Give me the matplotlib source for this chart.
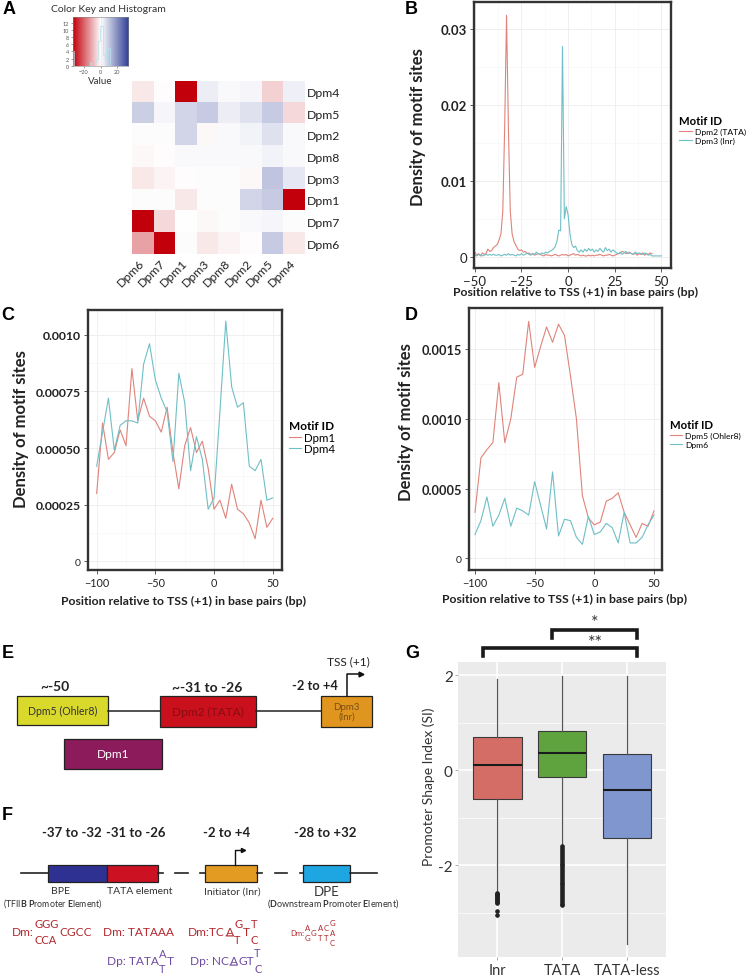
import numpy as np
import matplotlib
matplotlib.use('Agg')
import matplotlib.pyplot as plt
from matplotlib.colors import LinearSegmentedColormap
from matplotlib.patches import Rectangle

plt.rcParams['font.family'] = ['Lato', 'DejaVu Sans']
plt.rcParams['mathtext.fontset'] = 'custom'
plt.rcParams['mathtext.rm'] = 'Lato'
plt.rcParams['mathtext.bf'] = 'Lato:bold'

# ---------------- data ----------------
hm_rows = ['Dpm4', 'Dpm5', 'Dpm2', 'Dpm8', 'Dpm3', 'Dpm1', 'Dpm7', 'Dpm6']
hm_cols = ['Dpm6', 'Dpm7', 'Dpm1', 'Dpm3', 'Dpm8', 'Dpm2', 'Dpm5', 'Dpm4']
hm_row_dpm4 = [-3, -0.5, -33, 3, 1, 1.5, -6, 2.5]
hm_row_dpm5 = [8, 1.5, 7, 9, 3, 5, 9, -5]
hm_row_dpm2 = [0.5, 0.5, 7, -1, 1, 2, 5, 1]
hm_row_dpm8 = [-1, -0.5, 1, 1, 1, 1, 2, 1]
hm_row_dpm3 = [-3, -1.5, -0.5, 0.5, 0.5, -1, 10, 4]
hm_row_dpm1 = [0.5, 0.5, -3, 0.5, 0.5, 7, 9, -33]
hm_row_dpm7 = [-33, -5, 0.2, -1, 0.5, 1, 1.5, 0.5]
hm_row_dpm6 = [-12, -33, 0.5, -3, -1.5, -0.5, 9, -3]

b_pos = list(range(-50, 51))
b_dpm2 = [0.0006, 0.0002, 0.0004, 0.0001, 0.0005, 0.0003, 0.0004, 0.0010, 0.0007, 0.0008,
          0.0012, 0.0014, 0.0016, 0.0022, 0.0030, 0.0060, 0.0170, 0.0318, 0.0170, 0.0060,
          0.0030, 0.0020, 0.0015, 0.0010, 0.0008, 0.0009, 0.0006, 0.0007, 0.0004, 0.0005,
          0.0003, 0.0004, 0.0002, 0.0003, 0.0004, 0.0003, 0.0002, 0.0001, 0.0003, 0.0002,
          0.0002, 0.0001, 0.0002, 0.0003, 0.0002, 0.0001, 0.0002, 0.0003, 0.0002, 0.0003,
          0.0001, 0.0002, 0.0003, 0.0004, 0.0002, 0.0003, 0.0002, 0.0001, 0.0002, 0.0001,
          0.0001, 0.0002, 0.0001, 0.0002, 0.0001, 0.0002, 0.0002, 0.0003, 0.0002, 0.0001,
          0.0002, 0.0002, 0.0003, 0.0002, 0.0001, 0.0002, 0.0003, 0.0004, 0.0005, 0.0007,
          0.0006, 0.0004, 0.0005, 0.0006, 0.0004, 0.0003, 0.0005, 0.0002, 0.0004, 0.0003,
          0.0005, 0.0002, 0.0004, 0.0003, 0.0005, 0.0004]
b_dpm3 = [0.0002, 0.0001, 0.0003, 0.0002, 0.0001, 0.0002, 0.0003, 0.0002, 0.0003, 0.0002,
          0.0003, 0.0002, 0.0002, 0.0003, 0.0001, 0.0002, 0.0003, 0.0002, 0.0004, 0.0002,
          0.0003, 0.0002, 0.0001, 0.0003, 0.0002, 0.0004, 0.0002, 0.0003, 0.0005, 0.0003,
          0.0002, 0.0004, 0.0003, 0.0006, 0.0004, 0.0003, 0.0005, 0.0004, 0.0006, 0.0005,
          0.0007, 0.0008, 0.0010, 0.0013, 0.0020, 0.0035, 0.0034, 0.0277, 0.0050, 0.0066,
          0.0055, 0.0030, 0.0016, 0.0012, 0.0014, 0.0008, 0.0006, 0.0009, 0.0006, 0.0010,
          0.0007, 0.0011, 0.0008, 0.0010, 0.0006, 0.0009, 0.0007, 0.0011, 0.0008, 0.0006,
          0.0012, 0.0008, 0.0010, 0.0006, 0.0009, 0.0007, 0.0005, 0.0004, 0.0006, 0.0003,
          0.0005, 0.0007, 0.0004, 0.0005, 0.0004, 0.0003, 0.0006, 0.0004, 0.0005, 0.0004,
          0.0003, 0.0005, 0.0004, 0.0002, 0.0003, 0.0001, 0.0001, 0.0001, 0.0001, 0.0001,
          0.0001]

cd_pos = [-100, -95, -90, -85, -80, -75, -70, -65, -60, -55, -50, -45, -40, -35, -30, -25,
          -20, -15, -10, -5, 0, 5, 10, 15, 20, 25, 30, 35, 40, 45, 50]
c_dpm1 = [0.00030, 0.00061, 0.00045, 0.00048, 0.00058, 0.00051, 0.00085, 0.00062, 0.00072,
          0.00064, 0.00062, 0.00057, 0.00068, 0.00048, 0.00032, 0.00051, 0.00059, 0.00048,
          0.00053, 0.00041, 0.00023, 0.00027, 0.00019, 0.00034, 0.00023, 0.00021, 0.00017,
          0.00010, 0.00027, 0.00015, 0.00019]
c_dpm4 = [0.00042, 0.00057, 0.00072, 0.00049, 0.00060, 0.00062, 0.00062, 0.00061, 0.00087,
          0.00096, 0.00080, 0.00072, 0.00066, 0.00044, 0.00083, 0.00070, 0.00040, 0.00055,
          0.00045, 0.00023, 0.00028, 0.00066, 0.00106, 0.00077, 0.00068, 0.00070, 0.00042,
          0.00040, 0.00045, 0.00027, 0.00028]
d_dpm5 = [0.00033, 0.00072, 0.00078, 0.00083, 0.00126, 0.00083, 0.00100, 0.00130, 0.00132,
          0.00170, 0.00137, 0.00152, 0.00166, 0.00155, 0.00168, 0.00160, 0.00131, 0.00100,
          0.00045, 0.00029, 0.00024, 0.00026, 0.00041, 0.00043, 0.00047, 0.00033, 0.00024,
          0.00015, 0.00025, 0.00023, 0.00034]
d_dpm6 = [0.00017, 0.00027, 0.00044, 0.00023, 0.00031, 0.00043, 0.00023, 0.00036, 0.00034,
          0.00031, 0.00055, 0.00038, 0.00021, 0.00062, 0.00016, 0.00028, 0.00027, 0.00015,
          0.00010, 0.00030, 0.00017, 0.00019, 0.00025, 0.00022, 0.00011, 0.00033, 0.00011,
          0.00011, 0.00015, 0.00024, 0.00031]

g_groups = ['Inr', 'TATA', 'TATA-less']
g_q1 = [-0.61, -0.14, -1.43]
g_med = [0.11, 0.37, -0.41]
g_q3 = [0.69, 0.82, 0.34]
g_whislo = [-2.56, -1.59, -3.65]
g_whishi = [1.92, 1.98, 1.99]
g_out_inr = [-2.57, -2.59, -2.61, -2.63, -2.65, -2.67, -2.69, -2.71, -2.73, -2.75, -2.77,
             -2.79, -2.95, -3.05]
g_out_tata = [-1.60, -1.64, -1.68, -1.72, -1.76, -1.80, -1.84, -1.88, -1.92, -1.96, -2.00,
              -2.04, -2.08, -2.12, -2.16, -2.20, -2.24, -2.28, -2.32, -2.36, -2.40, -2.44,
              -2.48, -2.52, -2.56, -2.60, -2.64, -2.68, -2.72, -2.76, -2.80, -2.84]
g_out_less = []

# ---------------- layout helpers ----------------
W, H = 747, 978
fig = plt.figure(figsize=(W / 100, H / 100), dpi=100)


def rect(x0, y0, x1, y1):
    return [x0 / W, 1 - y1 / H, (x1 - x0) / W, (y1 - y0) / H]


def lab_xy(r, px, py):
    x0, y0, x1, y1 = r
    return (px - x0) / (x1 - x0), (y1 - py) / (y1 - y0)


RED = '#E0837B'
TEAL = '#6FBFC6'
DARK = '#222222'


def style_bw(ax):
    ax.set_facecolor('white')
    for s in ax.spines.values():
        s.set_linewidth(1.7)
        s.set_color('#333333')
    ax.minorticks_on()
    ax.grid(True, which='major', color='#EDEDED', lw=0.6)
    ax.grid(True, which='minor', color='#F6F6F6', lw=0.4)
    ax.set_axisbelow(True)
    ax.tick_params(which='major', length=3, width=0.6, color='#444444', pad=2, labelcolor=DARK)
    ax.tick_params(which='minor', length=0)


# ---------------- A: heatmap ----------------
hm = np.array([hm_row_dpm4, hm_row_dpm5, hm_row_dpm2, hm_row_dpm8,
               hm_row_dpm3, hm_row_dpm1, hm_row_dpm7, hm_row_dpm6])
cmap = LinearSegmentedColormap.from_list('rwb', ['#C2000B', '#FFFFFF', '#2F3E95'])
VMIN, VMAX = -33, 33

rA = (131.7, 81.7, 304.3, 255)
axA = fig.add_axes(rect(*rA))
axA.imshow(hm, cmap=cmap, vmin=VMIN, vmax=VMAX, aspect='auto', interpolation='nearest')
axA.set_xticks(range(len(hm_cols)))
axA.set_xticklabels(hm_cols, rotation=45, ha='right', va='center', rotation_mode='anchor',
                    fontsize=8.8, color=DARK)
axA.set_yticks(range(len(hm_rows)))
axA.set_yticklabels(hm_rows, fontsize=8.8, color=DARK)
axA.yaxis.tick_right()
axA.tick_params(length=0, pad=5)
axA.tick_params(axis='y', pad=2)
for s in axA.spines.values():
    s.set_visible(False)

rK = (72.7, 18.3, 128.3, 66.7)
axK = fig.add_axes(rect(*rK))
grad = np.linspace(VMIN, VMAX, 256).reshape(1, -1)
axK.imshow(grad, cmap=cmap, vmin=VMIN, vmax=VMAX, aspect='auto', extent=[VMIN, VMAX, 0, 13.5])
counts, edges = np.histogram(hm.ravel(), bins=np.linspace(VMIN, VMAX, 34))
axK.stairs(np.minimum(counts, 11), edges, color='#B5E4EC', lw=0.5)
axK.axvline(0, color='#9ED8E2', lw=0.5, ls=':')
axK.set_xlim(VMIN, VMAX)
axK.set_ylim(0, 13.5)
axK.set_xticks([-20, 0, 20])
axK.set_yticks([0, 2, 4, 6, 8, 10, 12])
axK.tick_params(labelsize=4, length=1.5, width=0.4, pad=1, colors='#555555')
axK.set_xlabel('Value', fontsize=7, labelpad=1, color='#333333')
for s in axK.spines.values():
    s.set_linewidth(0.4)
    s.set_color('#888888')

# ---------------- B ----------------
rB = (473.7, 3, 670.7, 269)
axB = fig.add_axes(rect(*rB))
style_bw(axB)
axB.plot(b_pos[:len(b_dpm2)], b_dpm2, color=RED, lw=0.8, label='Dpm2 (TATA)')
axB.plot(b_pos, b_dpm3, color=TEAL, lw=0.8, label='Dpm3 (Inr)')
axB.set_xlim(-50.6, 55)
axB.set_ylim(-0.00149, 0.03356)
axB.set_xticks([-50, -25, 0, 25, 50])
axB.set_xticks([-37.5, -12.5, 12.5, 37.5], minor=True)
axB.set_yticks([0, 0.01, 0.02, 0.03])
axB.set_yticks([0.005, 0.015, 0.025], minor=True)
axB.set_yticklabels(['0', '0.01', '0.02', '0.03'], fontsize=9.5, fontweight='bold')
axB.get_yticklabels()[0].set_fontweight('normal')
axB.tick_params(axis='x', labelsize=9.5)
axB.set_ylabel('Density of motif sites', fontsize=12, fontweight='bold', va='center', color=DARK)
axB.yaxis.set_label_coords(*lab_xy(rB, 417.5, 126.7))
axB.set_xlabel('Position relative to TSS (+1) in base pairs (bp)', fontsize=8.8,
               fontweight='bold', va='center', color=DARK)
axB.xaxis.set_label_coords(*lab_xy(rB, 576, 292.7))
axB.legend(loc='upper left', bbox_to_anchor=(679 / W, 1 - 116 / H),
           bbox_transform=fig.transFigure, frameon=False, fontsize=6.1,
           title='Motif ID', title_fontproperties={'weight': 'bold', 'size': 8.2},
           alignment='left', handlelength=1.5, handletextpad=0.4,
           labelspacing=0.2, borderpad=0, borderaxespad=0)

# ---------------- C ----------------
rC = (88, 310.7, 282, 571)
axC = fig.add_axes(rect(*rC))
style_bw(axC)
axC.plot(cd_pos, c_dpm1, color=RED, lw=0.8, label='Dpm1')
axC.plot(cd_pos, c_dpm4, color=TEAL, lw=0.8, label='Dpm4')
axC.set_xlim(-107.4, 57.9)
axC.set_ylim(-0.000038, 0.00111)
axC.set_xticks([-100, -50, 0, 50])
axC.set_xticks([-75, -25, 25], minor=True)
axC.set_yticks([0, 0.00025, 0.0005, 0.00075, 0.001])
axC.set_yticks([0.000125, 0.000375, 0.000625, 0.000875], minor=True)
axC.set_yticklabels(['0', '0.00025', '0.00050', '0.00075', '0.0010'], fontsize=8.8,
                    fontweight='bold')
axC.get_yticklabels()[0].set_fontweight('normal')
axC.get_yticklabels()[0].set_fontsize(7.5)
axC.tick_params(axis='x', labelsize=7.8)
axC.set_ylabel('Density of motif sites', fontsize=12, fontweight='bold', va='center', color=DARK)
axC.yaxis.set_label_coords(*lab_xy(rC, 21, 429))
axC.set_xlabel('Position relative to TSS (+1) in base pairs (bp)', fontsize=8.8,
               fontweight='bold', va='center', color=DARK)
axC.xaxis.set_label_coords(*lab_xy(rC, 183.7, 601.7))
axC.legend(loc='upper left', bbox_to_anchor=(289 / W, 1 - 421 / H),
           bbox_transform=fig.transFigure, frameon=False, fontsize=8.3,
           title='Motif ID', title_fontproperties={'weight': 'bold', 'size': 8.5},
           alignment='left', handlelength=1.0, handletextpad=0.3,
           labelspacing=0.05, borderpad=0, borderaxespad=0)

# ---------------- D ----------------
rD = (469, 309, 662, 570.7)
axD = fig.add_axes(rect(*rD))
style_bw(axD)
axD.plot(cd_pos, d_dpm5, color=RED, lw=0.8, label='Dpm5 (Ohler8)')
axD.plot(cd_pos, d_dpm6, color=TEAL, lw=0.8, label='Dpm6')
axD.set_xlim(-105, 56.7)
axD.set_ylim(-0.000082, 0.001796)
axD.set_xticks([-100, -50, 0, 50])
axD.set_xticks([-75, -25, 25], minor=True)
axD.set_yticks([0, 0.0005, 0.001, 0.0015])
axD.set_yticks([0.00025, 0.00075, 0.00125], minor=True)
axD.set_yticklabels(['0', '0.0005', '0.0010', '0.0015'], fontsize=9.2, fontweight='bold')
axD.get_yticklabels()[0].set_fontweight('normal')
axD.get_yticklabels()[0].set_fontsize(7.5)
axD.tick_params(axis='x', labelsize=7.8)
axD.set_ylabel('Density of motif sites', fontsize=12, fontweight='bold', va='center', color=DARK)
axD.yaxis.set_label_coords(*lab_xy(rD, 406.3, 421.7))
axD.set_xlabel('Position relative to TSS (+1) in base pairs (bp)', fontsize=8.8,
               fontweight='bold', va='center', color=DARK)
axD.xaxis.set_label_coords(*lab_xy(rD, 565, 599))
axD.legend(loc='upper left', bbox_to_anchor=(670 / W, 1 - 420 / H),
           bbox_transform=fig.transFigure, frameon=False, fontsize=6.1,
           title='Motif ID', title_fontproperties={'weight': 'bold', 'size': 8.2},
           alignment='left', handlelength=1.4, handletextpad=0.4,
           labelspacing=0.2, borderpad=0, borderaxespad=0)

# ---------------- G ----------------
rG = (458.3, 662.7, 666, 958.3)
axG = fig.add_axes(rect(*rG))
axG.set_facecolor('#EBEBEB')
for s in axG.spines.values():
    s.set_visible(False)
stats = []
for i, g in enumerate(g_groups):
    stats.append({'label': g, 'q1': g_q1[i], 'med': g_med[i], 'q3': g_q3[i],
                  'whislo': g_whislo[i], 'whishi': g_whishi[i],
                  'fliers': [g_out_inr, g_out_tata, g_out_less][i]})
bp = axG.bxp(stats, positions=[1, 2, 3], widths=0.75, patch_artist=True, showcaps=False,
             boxprops=dict(edgecolor='#3A3A3A', lw=0.8),
             whiskerprops=dict(color='#555555', lw=0.9),
             medianprops=dict(color='#1A1A1A', lw=1.5),
             flierprops=dict(marker='o', markersize=2.3, markerfacecolor='#222222',
                             markeredgecolor='#222222'))
for patch, c in zip(bp['boxes'], ['#D56D67', '#5FA33E', '#7F96CF']):
    patch.set_facecolor(c)
axG.set_xlim(0.4, 3.6)
axG.set_ylim(-3.93, 2.28)
axG.set_yticks([-2, 0, 2])
axG.set_yticks([-3, -1, 1], minor=True)
axG.set_yticklabels(['-2', '0', '2'])
axG.set_xticks([1, 2, 3])
axG.set_xticklabels(g_groups)
axG.grid(True, which='major', color='white', lw=1.1)
axG.grid(True, which='minor', axis='y', color='white', lw=0.5)
axG.set_axisbelow(True)
axG.tick_params(which='major', length=2, width=0.5, color='#888888', labelsize=11,
                labelcolor='#333333', pad=2)
axG.tick_params(which='minor', length=0)
axG.tick_params(axis='x', labelsize=10.5)
axG.set_ylabel('Promoter Shape Index (SI)', fontsize=10, va='center', color='#333333')
axG.yaxis.set_label_coords(*lab_xy(rG, 429.2, 786.7))

# ---------------- overlay (labels, E, F, brackets) ----------------
ov = fig.add_axes([0, 0, 1, 1])
ov.set_xlim(0, W)
ov.set_ylim(H, 0)
ov.axis('off')

ov.text(108, 10, 'Color Key and Histogram', fontsize=7.5, ha='center', va='center', color='#333333')

for lab, x, y in [('A', 3, 10), ('B', 404.5, 9.7), ('C', 1.7, 315.3), ('D', 404.5, 315.5),
                  ('E', 1.7, 653.3), ('F', 1.7, 815), ('G', 405, 653.3)]:
    ov.text(x, y, lab, fontsize=13, fontweight='bold', family='Liberation Sans',
            ha='left', va='center', color='black')

# --- E ---
LW = 1.1
ov.plot([108.3, 160], [711.5, 711.5], color='#222222', lw=LW)
ov.plot([256, 321], [711.5, 711.5], color='#222222', lw=LW)
boxesE = [(16.7, 696.7, 108.3, 726, '#D9D92C'), (160, 697.3, 256, 728.3, '#C9101C'),
          (321, 697.3, 372, 727.5, '#E0951F'), (64.3, 740, 161.7, 770, '#8C1B5C')]
for x0, y0, x1, y1, c in boxesE:
    ov.add_patch(Rectangle((x0, y0), x1 - x0, y1 - y0, facecolor=c, edgecolor='#222222', lw=0.9))
ov.text(62.5, 711.5, 'Dpm5 (Ohler8)', fontsize=7.6, ha='center', va='center', color='#333333')
ov.text(208, 712.5, 'Dpm2 (TATA)', fontsize=8.6, ha='center', va='center', color='#8A0C12')
ov.text(346.5, 712.5, 'Dpm3\n(Inr)', fontsize=7, ha='center', va='center', color='#7A4E12',
        linespacing=1.1)
ov.text(113, 755, 'Dpm1', fontsize=8.6, ha='center', va='center', color='white')
ov.plot([346.7, 346.7, 359], [697.3, 675, 675], color='#111111', lw=1.1)
ov.plot([360.5], [675], marker='>', markersize=3.5, color='#111111')
ov.text(348, 661.5, 'TSS (+1)', fontsize=8.6, ha='center', va='center', color='#222222')
ov.text(55, 687.3, '~-50', fontsize=10, fontweight='bold', ha='center', va='center', color='#222222')
ov.text(206.7, 688, '~-31 to -26', fontsize=10, fontweight='bold', ha='center', va='center',
        color='#222222')
ov.text(315, 686, '-2 to +4', fontsize=9.3, fontweight='bold', ha='center', va='center',
        color='#222222')

# --- F ---
yl = 874.3
for xa, xb in [(20.7, 48), (158, 163), (175, 188.3), (200, 205), (257, 262), (275, 286.7),
               (300, 303.3), (350, 377)]:
    ov.plot([xa, xb], [yl, yl], color='#222222', lw=1.2)
for x0, x1, c in [(48, 107.3, '#2E3192'), (107.3, 158, '#CC1122'), (205, 257, '#E39B22'),
                  (303.3, 350, '#1EA6E2')]:
    ov.add_patch(Rectangle((x0, 866), x1 - x0, 16.7, facecolor=c, edgecolor='#222222', lw=0.9))
ov.plot([235, 235, 241], [866, 851, 851], color='#111111', lw=1.0)
ov.plot([242.5], [851], marker='>', markersize=3, color='#111111')
for txt, x in [('-37 to -32', 71.7), ('-31 to -26', 136), ('-2 to +4', 226.7), ('-28 to +32', 325)]:
    ov.text(x, 832.7, txt, fontsize=9.5, fontweight='bold', ha='center', va='center', color='#222222')
ov.text(60, 891.7, 'BPE', fontsize=7.5, ha='center', va='center', color='#333333')
ov.text(53.3, 903.5, r'(TFII$\mathbf{B}$ $\mathbf{P}$romoter $\mathbf{E}$lement)', fontsize=6.3,
        ha='center', va='center', color='#333333')
ov.text(140, 891.7, 'TATA element', fontsize=7.5, ha='center', va='center', color='#333333')
ov.text(232, 891.7, 'Initiator (Inr)', fontsize=7.5, ha='center', va='center', color='#333333')
ov.text(326.7, 891.7, 'DPE', fontsize=9.5, ha='center', va='center', color='#333333')
ov.text(266.7, 903.5, r'($\mathbf{D}$ownstream $\mathbf{P}$romoter $\mathbf{E}$lement)',
        fontsize=6.5, ha='left', va='center', color='#333333')

SR = '#B3272D'
SP = '#6E49A3'


def seq_row(x, y, tokens, size, color, ssize, dy, gap=0.4):
    """Lay out a consensus sequence: 'p' plain, 'u' underlined, 's' stacked letters."""
    base = ov.text(x, y, tokens[0][1], fontsize=size, color=color, ha='left', va='center')
    prev = base
    for kind, s in tokens[1:]:
        if kind in ('p', 'u'):
            a = ov.annotate(s, xy=(1, 0.5), xycoords=(prev, base), xytext=(gap, 0),
                            textcoords='offset points', fontsize=size, color=color,
                            ha='left', va='center')
            if kind == 'u':
                ov.annotate('', xy=(0.97, 0.1), xycoords=a, xytext=(0.03, 0.1), textcoords=a,
                            arrowprops=dict(arrowstyle='-', color=color, lw=0.8,
                                            shrinkA=0, shrinkB=0))
            prev = a
        else:
            n = len(s)
            arts = []
            for i, L in enumerate(s):
                off = dy * (n - 1) / 2 - i * dy
                a = ov.annotate(L, xy=(1, 0.5), xycoords=(prev, base), xytext=(gap, off),
                                textcoords='offset points', fontsize=ssize, color=color,
                                ha='left', va='center')
                arts.append(a)
            prev = arts[0]


seq_row(11.7, 932.5, [('p', 'Dm:'), ('s', ['GGG', 'CCA']), ('p', 'CGCC')], 8.6, SR, 8, 11.5)
seq_row(102.7, 932.5, [('p', 'Dm: TATAAA')], 8.6, SR, 8, 11.5)
seq_row(188.3, 932.5, [('p', 'Dm:TC'), ('u', 'A'), ('s', ['G', 'T']), ('p', 'T'),
                       ('s', ['T', 'C'])], 8.6, SR, 8, 11.5)
seq_row(290, 933.3, [('p', 'Dm:'), ('s', ['A', 'G']), ('p', 'G'), ('s', ['A', 'T']),
                     ('s', ['C', 'T']), ('s', ['G', 'A', 'C'])], 5.6, SR, 5.6, 7.2, gap=0.6)
seq_row(106.7, 961.7, [('p', 'Dp: TATA'), ('s', ['A', 'T']), ('p', 'T')], 8.6, SP, 8, 10.8)
seq_row(190, 961.7, [('p', 'Dp: NC'), ('u', 'A'), ('p', 'GT'), ('s', ['T', 'C'])], 8.6, SP, 8,
        11.5)

# --- G significance brackets ---
BL = 2.6
ov.plot([551.7, 551.7, 637.3, 637.3], [639.3, 631.3, 631.3, 639.3], color='#1A1A1A', lw=BL,
        solid_joinstyle='miter')
ov.plot([483.3, 483.3, 637.3, 637.3], [657.3, 649.3, 649.3, 657.3], color='#1A1A1A', lw=BL,
        solid_joinstyle='miter')
ov.text(594.3, 623, '*', fontsize=13, ha='center', va='center', color='#333333')
ov.text(595, 643, '**', fontsize=13, ha='center', va='center', color='#333333')

fig.savefig('out.png', dpi=100)
